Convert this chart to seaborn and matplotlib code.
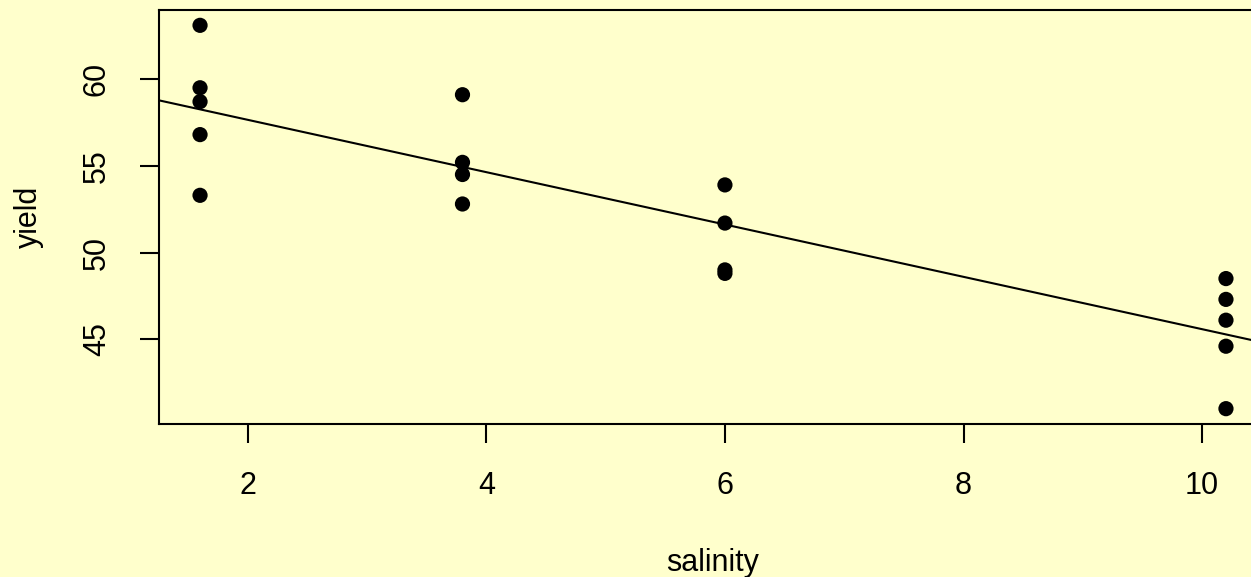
import numpy as np
import pandas as pd
import matplotlib
matplotlib.use("Agg")
import matplotlib.pyplot as plt
import seaborn as sns

# data
salinity = [1.6, 1.6, 1.6, 1.6, 1.6,
            3.8, 3.8, 3.8, 3.8,
            6.0, 6.0, 6.0, 6.0,
            10.2, 10.2, 10.2, 10.2, 10.2]
yield_ = [63.1, 59.5, 58.7, 56.8, 53.3,
          59.1, 55.2, 54.5, 52.8,
          53.9, 51.7, 49.0, 48.8,
          48.5, 47.3, 46.1, 44.6, 41.0]
x_ticks = [2, 4, 6, 8, 10]
y_ticks = [45, 50, 55, 60]

df = pd.DataFrame({"salinity": salinity, "yield": yield_})

sns.set_style("ticks")
plt.rcParams["font.family"] = ["Liberation Sans", "DejaVu Sans"]
plt.rcParams["text.color"] = "black"
plt.rcParams["axes.labelcolor"] = "black"

bg = "#FFFFCC"
W, H = 1251, 577
fig = plt.figure(figsize=(W / 100, H / 100), dpi=100, facecolor=bg)
ax = fig.add_axes([159 / W, (H - 424) / H, (1267 - 159) / W, (424 - 10) / H])
ax.set_facecolor(bg)

sns.scatterplot(data=df, x="salinity", y="yield", ax=ax, s=120,
                color="black", edgecolor="none", zorder=3)

slope, intercept = np.polyfit(df["salinity"], df["yield"], 1)
ax.axline((0, intercept), slope=slope, color="black", lw=1.5)

xr = max(salinity) - min(salinity)
yr = max(yield_) - min(yield_)
ax.set_xlim(min(salinity) - 0.04 * xr, max(salinity) + 0.04 * xr)
ax.set_ylim(min(yield_) - 0.04 * yr, max(yield_) + 0.04 * yr)

ax.set_xticks(x_ticks)
ax.set_yticks(y_ticks)
ax.tick_params(axis="both", direction="out", length=14, width=1.5,
               pad=20, labelsize=22, colors="black", labelcolor="black")
ax.tick_params(axis="y", labelrotation=90)
for lab in ax.get_yticklabels():
    lab.set_va("center")

for sp in ax.spines.values():
    sp.set_linewidth(1.5)
    sp.set_color("black")

ax.set_xlabel("salinity", fontsize=22, labelpad=34, color="black")
ax.set_ylabel("yield", fontsize=22, labelpad=27, color="black")

fig.savefig("out.png", dpi=100, facecolor=bg)
